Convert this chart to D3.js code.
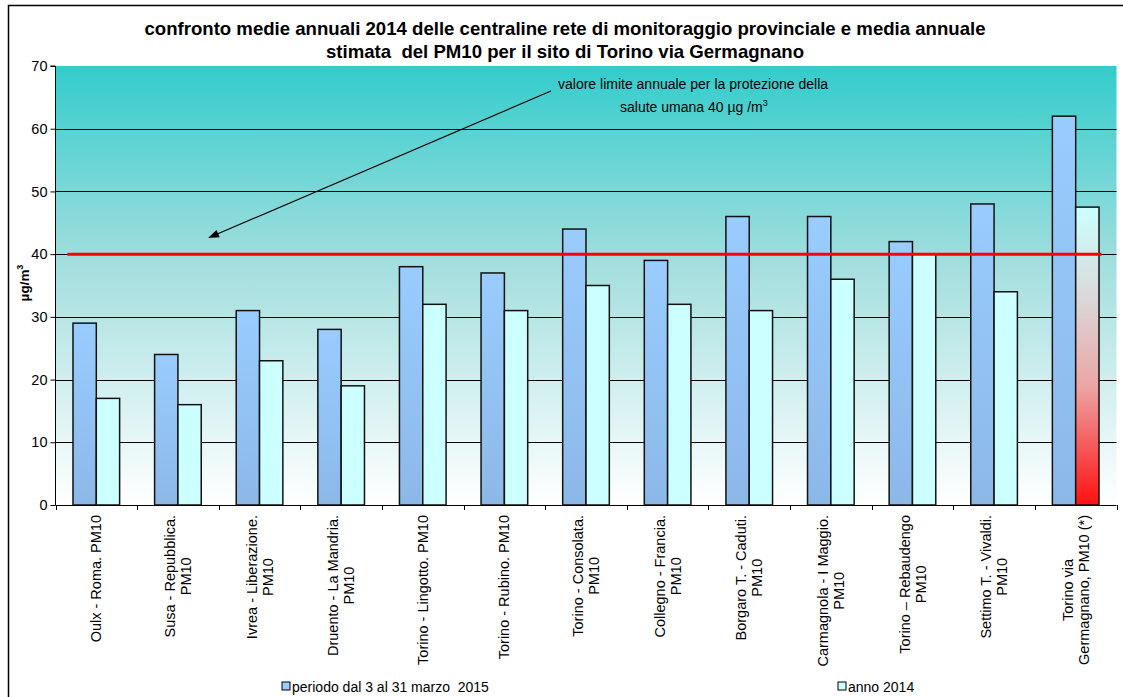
<!DOCTYPE html>
<html><head><meta charset="utf-8">
<script src="https://cdn.jsdelivr.net/npm/d3@7"></script>
<style>
html,body{margin:0;padding:0;background:#fff;}
svg{display:block;font-family:"Liberation Sans",Arial,sans-serif;}
text{white-space:pre;}
</style></head>
<body>
<svg id="chart" width="1123" height="697"></svg>
<script>
const categories = [
  "Oulx - Roma. PM10",
  "Susa - Repubblica.\nPM10",
  "Ivrea - Liberazione.\nPM10",
  "Druento - La Mandria.\nPM10",
  "Torino - Lingotto. PM10",
  "Torino - Rubino. PM10",
  "Torino - Consolata.\nPM10",
  "Collegno - Francia.\nPM10",
  "Borgaro T. - Caduti.\nPM10",
  "Carmagnola - I Maggio.\nPM10",
  "Torino \u2013 Rebaudengo\nPM10",
  "Settimo T. - Vivaldi.\nPM10",
  "Torino via\nGermagnano, PM10 (*)"
];
const periodo2015 = [29, 24, 31, 28, 38, 37, 44, 39, 46, 46, 42, 48, 62];
const anno2014 = [17, 16, 23, 19, 32, 31, 35, 32, 31, 36, 40, 34, 47.5];
const seriesNames = ["periodo dal 3 al 31 marzo  2015", "anno 2014"];
const yTicks = [0, 10, 20, 30, 40, 50, 60, 70];
const limitValue = 40;
const titleLines = [
  "confronto medie annuali 2014 delle centraline rete di monitoraggio provinciale e media annuale",
  "stimata  del PM10 per il sito di Torino via Germagnano"
];

const svg = d3.select("#chart");
const W = 1123, H = 697;
const plot = {left: 55.5, right: 1116.5, top: 66, bottom: 505};

const defs = svg.append("defs");
const bg = defs.append("linearGradient").attr("id","bgGrad").attr("x1",0).attr("y1",0).attr("x2",0).attr("y2",1);
bg.append("stop").attr("offset","0").attr("stop-color","#33CCCC");
bg.append("stop").attr("offset","0.45").attr("stop-color","#A3DEDE");
bg.append("stop").attr("offset","1").attr("stop-color","#FFFFFF");
const bl = defs.append("linearGradient").attr("id","blueGrad").attr("x1",0).attr("y1",0).attr("x2",0).attr("y2",1);
bl.append("stop").attr("offset","0").attr("stop-color","#99CCFF");
bl.append("stop").attr("offset","1").attr("stop-color","#8CB8E8");
const rd = defs.append("linearGradient").attr("id","redGrad").attr("x1",0).attr("y1",0).attr("x2",0).attr("y2",1);
rd.append("stop").attr("offset","0").attr("stop-color","#CCFFFF");
rd.append("stop").attr("offset","0.3").attr("stop-color","#D9D9D9");
rd.append("stop").attr("offset","0.6").attr("stop-color","#EDA5A5");
rd.append("stop").attr("offset","1").attr("stop-color","#FF1010");

// frame
svg.append("path").attr("d",`M8.5,${H} L8.5,5.5 L${W},5.5`).attr("fill","none").attr("stroke","#000").attr("stroke-width",1.5);

const y = d3.scaleLinear().domain([0,70]).range([plot.bottom, plot.top]);
const x0 = d3.scaleBand().domain(d3.range(categories.length)).range([plot.left, plot.right]).padding(0);
const x1 = d3.scaleBand().domain([0,1]).range([0, x0.bandwidth()]).paddingInner(0).paddingOuter(0.75);

// plot background
svg.append("rect").attr("x",plot.left).attr("y",plot.top).attr("width",plot.right-plot.left).attr("height",plot.bottom-plot.top).attr("fill","url(#bgGrad)");

// gridlines
svg.append("g").selectAll("line").data(yTicks.filter(t=>t>0 && t<70)).join("line")
  .attr("x1",plot.left).attr("x2",plot.right)
  .attr("y1",d=>Math.round(y(d))+0.5).attr("y2",d=>Math.round(y(d))+0.5)
  .attr("stroke","#000").attr("stroke-width",1);

// bars
const groups = svg.append("g").selectAll("g").data(categories).join("g")
  .attr("transform",(d,i)=>`translate(${x0(i)},0)`);
groups.append("rect")
  .attr("x",x1(0)).attr("width",x1.bandwidth())
  .attr("y",(d,i)=>y(periodo2015[i])).attr("height",(d,i)=>y(0)-y(periodo2015[i]))
  .attr("fill","url(#blueGrad)").attr("stroke","#111").attr("stroke-width",1.5);
groups.append("rect")
  .attr("x",x1(1)).attr("width",x1.bandwidth())
  .attr("y",(d,i)=>y(anno2014[i])).attr("height",(d,i)=>y(0)-y(anno2014[i]))
  .attr("fill",(d,i)=> i===categories.length-1 ? "url(#redGrad)" : "#CCFFFF")
  .attr("stroke","#111").attr("stroke-width",1.5);

// limit line
svg.append("line").attr("x1",plot.left+12).attr("x2",plot.right-15)
  .attr("y1",y(limitValue)).attr("y2",y(limitValue))
  .attr("stroke","#FF0000").attr("stroke-width",3);

// y axis
const yAxis = d3.axisLeft(y).tickValues(yTicks).tickSize(5).tickPadding(3);
const gy = svg.append("g").attr("transform",`translate(${plot.left},0)`).call(yAxis);
gy.select(".domain").attr("stroke","#000").attr("d",`M-5,${plot.top}H0V${plot.bottom}`);
gy.selectAll("text").attr("font-size",14.5).attr("fill","#000").attr("font-family","Liberation Sans, Arial, sans-serif");
gy.selectAll("line").attr("stroke","#000");

// x axis line and ticks at category boundaries
svg.append("line").attr("x1",plot.left).attr("x2",plot.right).attr("y1",plot.bottom+0.5).attr("y2",plot.bottom+0.5).attr("stroke","#000");
svg.append("g").selectAll("line").data(d3.range(categories.length+1)).join("line")
  .attr("x1",i=>Math.round(plot.left + i*x0.step())+0.5).attr("x2",i=>Math.round(plot.left + i*x0.step())+0.5)
  .attr("y1",plot.bottom).attr("y2",plot.bottom+5).attr("stroke","#000");

// x labels
const lineGap = 16;
categories.forEach((c,i)=>{
  const lines = c.split("\n");
  const cx = x0(i) + x0.bandwidth()/2;
  const g = svg.append("g").attr("transform",`translate(${cx},${plot.bottom+10}) rotate(-90)`);
  const texts = lines.map((ln,k)=> g.append("text").text(ln)
    .attr("font-size",14.5).attr("fill","#000")
    .attr("text-anchor","middle").attr("dy","0.35em")
    .attr("y",(k-(lines.length-1)/2)*lineGap));
  const L = d3.max(texts, t=>t.node().getComputedTextLength());
  texts.forEach(t=>t.attr("x",-L/2));
});

// y title
const yt = svg.append("text").attr("transform",`translate(29,283) rotate(-90)`)
  .attr("text-anchor","middle").attr("font-size",13.5).attr("font-weight","bold");
yt.append("tspan").text("\u00B5g/m");
yt.append("tspan").text("3").attr("font-size",9).attr("dy",-6);

// title
svg.append("g").selectAll("text").data(titleLines).join("text")
  .attr("x",565).attr("y",(d,i)=>35+i*23).attr("text-anchor","middle")
  .attr("font-size",18.6).attr("font-weight","bold").text(d=>d);

// annotation
svg.append("text").attr("x",558).attr("y",89).attr("font-size",14).text("valore limite annuale per la protezione della");
const a2 = svg.append("text").attr("x",620).attr("y",112).attr("font-size",14);
a2.append("tspan").text("salute umana 40 \u00B5g /m");
a2.append("tspan").text("3").attr("font-size",9).attr("dy",-6);

const ax1 = 551, ay1 = 91, ax2 = 208, ay2 = 238;
const ang = Math.atan2(ay2-ay1, ax2-ax1);
const ah = 11, aw = 4;
svg.append("line").attr("x1",ax1).attr("y1",ay1)
  .attr("x2",ax2 - Math.cos(ang)*ah*0.8).attr("y2",ay2 - Math.sin(ang)*ah*0.8)
  .attr("stroke","#000").attr("stroke-width",1.2);
const bx = ax2 - Math.cos(ang)*ah, by = ay2 - Math.sin(ang)*ah;
svg.append("path").attr("d",`M${ax2},${ay2} L${bx - Math.sin(ang)*aw},${by + Math.cos(ang)*aw} L${bx + Math.sin(ang)*aw},${by - Math.cos(ang)*aw} Z`).attr("fill","#000");

// legend
const legendX = [282, 838];
const lg = svg.append("g").selectAll("g").data(seriesNames).join("g")
  .attr("transform",(d,i)=>`translate(${legendX[i]},682)`);
lg.append("rect").attr("width",8).attr("height",8)
  .attr("fill",(d,i)=> i===0 ? "#99CCFF" : "#CCFFFF").attr("stroke","#000").attr("stroke-width",1);
lg.append("text").attr("x",10).attr("y",10).attr("font-size",14).text(d=>d);
</script>
</body></html>
